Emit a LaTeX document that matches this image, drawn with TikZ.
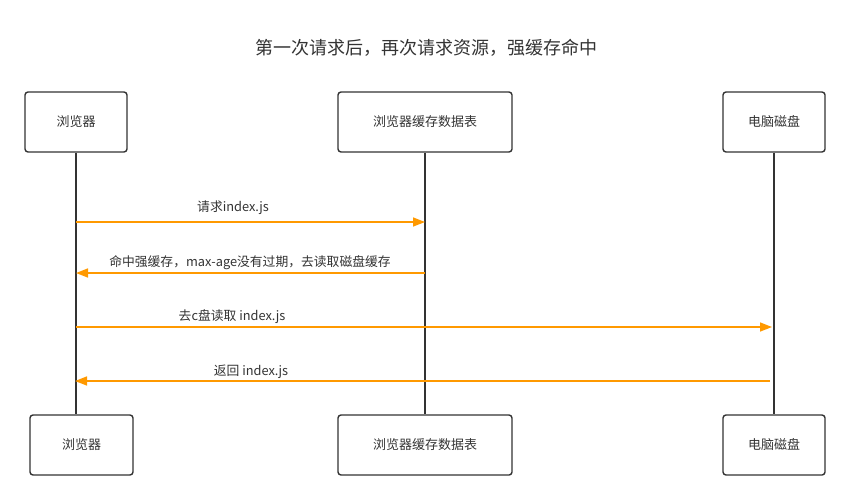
\documentclass[tikz,border=0pt]{standalone}
\usepackage{fontspec}
\setmainfont{Noto Sans CJK SC}
\definecolor{SEQorange}{HTML}{FF9900}
\definecolor{SEQdark}{HTML}{333333}
\usetikzlibrary{arrows.meta, positioning}

\begin{document}
\begin{tikzpicture}[x=1pt, y=-1pt,
      actor/.style={draw=SEQdark, line width=1.4pt, rounded corners=3pt, minimum height=60pt, font=\fontsize{13}{15}\selectfont, text=SEQdark},
      lifeline/.style={SEQdark, line width=1.4pt},
      msg/.style={SEQorange, line width=1.6pt, -{Triangle[length=12pt,width=9pt]}},
      lbl/.style={font=\fontsize{12.8}{15}\selectfont, text=SEQdark}]
      \useasboundingbox (0,0) rectangle (850,500);
      % Title
      \node[font=\fontsize{18}{21}\selectfont, text=SEQdark] (title) at (426,48) {第一次请求后，再次请求资源，强缓存命中};
      % Actors (top)
      \node[actor, minimum width=102pt] (browserTop) at (76,122) {浏览器};
      \node[actor, minimum width=174pt] (cacheTop) at (425,122) {浏览器缓存数据表};
      \node[actor, minimum width=102pt] (diskTop) at (774,122) {电脑磁盘};
      % Actors (bottom)
      \node[actor, minimum width=103pt] (browserBot) at (81.5,445) {浏览器};
      \node[actor, minimum width=174pt] (cacheBot) at (425,445) {浏览器缓存数据表};
      \node[actor, minimum width=102pt] (diskBot) at (774,445) {电脑磁盘};
      % Lifelines
      \draw[lifeline] (browserTop.south) -- (browserTop.south |- browserBot.north);
      \draw[lifeline] (cacheTop.south) -- (cacheBot.north);
      \draw[lifeline] (diskTop.south) -- (diskBot.north);
      % Message points
      \coordinate (b1) at (browserTop.south |- 0,222);
      \coordinate (c1) at (cacheTop.south |- 0,222);
      \coordinate (b2) at (browserTop.south |- 0,273);
      \coordinate (c2) at (cacheTop.south |- 0,273);
      \coordinate (b3) at (browserTop.south |- 0,327);
      \coordinate (d3) at (diskTop.south |- 0,327);
      \coordinate (b4) at (browserTop.south |- 0,381);
      \coordinate (d4) at (diskTop.south |- 0,381);
      % Messages
      \draw[msg] (b1) -- (c1);
      \node[lbl] (msgA) at (233,208) {请求index.js};
      \draw[msg] (c2) -- (b2);
      \node[lbl] (msgB) at (250,263) {命中强缓存，max-age没有过期，去读取磁盘缓存};
      \draw[msg, shorten >=2pt] (b3) -- (d3);
      \node[lbl] (msgC) at (232,317) {去c盘读取 index.js};
      \draw[msg, shorten <=4pt, shorten >=-1pt] (d4) -- (b4);
      \node[lbl] (msgD) at (251,372) {返回 index.js};
   \end{tikzpicture}
\end{document}
